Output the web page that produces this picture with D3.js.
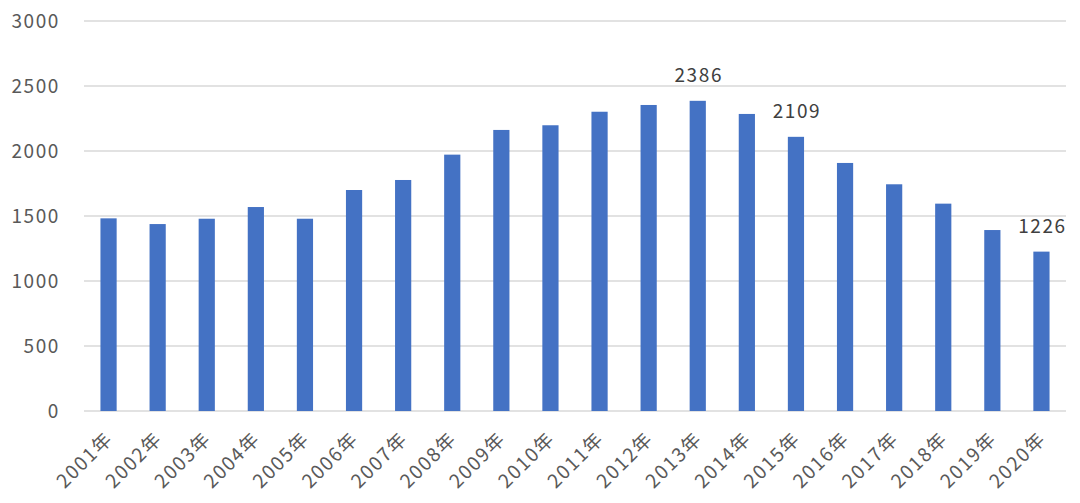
<!DOCTYPE html>
<html>
<head>
<meta charset="utf-8">
<script src="https://cdn.jsdelivr.net/npm/d3@7"></script>
<style>
html,body{margin:0;padding:0;background:#fff;}
svg text{font-family:"Noto Sans CJK SC","Noto Sans",sans-serif;fill:#595959;}
</style>
</head>
<body>
<svg id="chart" width="1080" height="503"></svg>
<script>
const categories = ["2001年","2002年","2003年","2004年","2005年","2006年","2007年","2008年","2009年","2010年","2011年","2012年","2013年","2014年","2015年","2016年","2017年","2018年","2019年","2020年"];
const values = [1482,1438,1479,1569,1479,1700,1777,1972,2162,2198,2302,2354,2386,2285,2109,1908,1744,1595,1392,1226];
const labeledCategories = ["2013年","2015年","2020年"];
const yTicks = [0,500,1000,1500,2000,2500,3000];

const svg = d3.select("#chart");
const mLeft = 84, mRight = 1066, mTop = 21, mBottom = 411;

const x = d3.scaleBand().domain(categories).range([mLeft, mRight]).paddingInner(0.67).paddingOuter(0.335);
const y = d3.scaleLinear().domain([0, 3000]).range([mBottom, mTop]);

// gridlines
svg.append("g").selectAll("line").data(yTicks).join("line")
  .attr("x1", mLeft).attr("x2", mRight)
  .attr("y1", d => y(d)).attr("y2", d => y(d))
  .attr("stroke", "#d9d9d9").attr("stroke-width", 1.3);

// y tick labels
svg.append("g").selectAll("text").data(yTicks).join("text")
  .attr("x", 60).attr("y", d => y(d)).attr("dy", "0.35em")
  .attr("text-anchor", "end").attr("font-size", 19)
  .attr("letter-spacing", 1.6)
  .text(d => d);

// bars
svg.append("g").selectAll("rect").data(categories).join("rect")
  .attr("x", d => x(d)).attr("width", x.bandwidth())
  .attr("y", (d, i) => y(values[i])).attr("height", (d, i) => y(0) - y(values[i]))
  .attr("fill", "#4472C4");

// data labels
svg.append("g").selectAll("text").data(categories.filter(c => labeledCategories.includes(c))).join("text")
  .attr("x", d => x(d) + x.bandwidth() / 2 + 1)
  .attr("y", d => y(values[categories.indexOf(d)]) - 19)
  .attr("text-anchor", "middle").attr("font-size", 19)
  .attr("letter-spacing", 1.6)
  .style("fill", "#404040")
  .text(d => values[categories.indexOf(d)]);

// x labels
svg.append("g").selectAll("text").data(categories).join("text")
  .attr("transform", d => `translate(${x(d) + x.bandwidth() / 2 + 1},${mBottom + 24}) rotate(-45)`)
  .attr("text-anchor", "end").attr("dy", "0.35em").attr("font-size", 19)
  .attr("letter-spacing", 1.8)
  .text(d => d);
</script>
</body>
</html>
